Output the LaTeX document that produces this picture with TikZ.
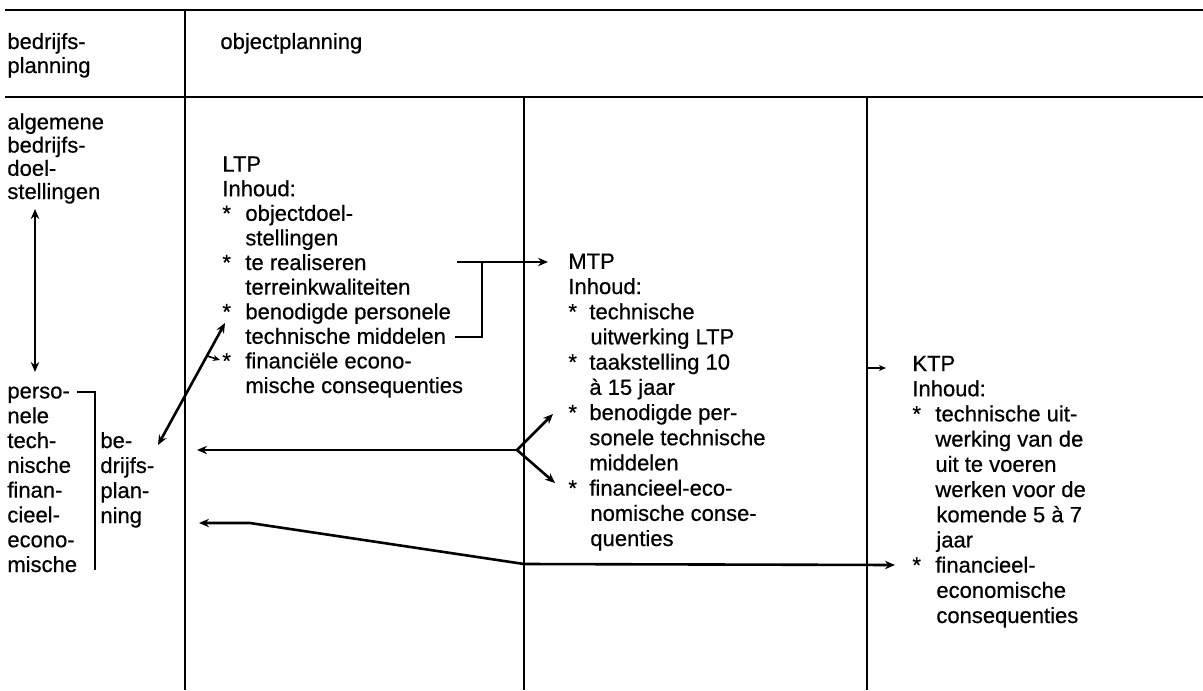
\documentclass[tikz,border=0pt]{standalone}
\usepackage{fontspec}
\setmainfont{Liberation Sans}[FakeBold=0.6]
\usetikzlibrary{arrows.meta}
\newcommand\bitem[1]{\makebox[#1][l]{*}}
\newcommand\bind[1]{\hspace*{#1}}
\begin{document}
\begin{tikzpicture}[x=0.5pt,y=-0.5pt,
  txt/.style={anchor=base west,inner sep=0pt,align=left,font=\fontsize{11pt}{12.5pt}\selectfont},
  gridline/.style={line width=0.9pt},
  conn/.style={line width=1.3pt},
  arr/.style={-{Stealth[length=5pt,width=4.2pt]}},
  darr/.style={{Stealth[length=5pt,width=4.2pt]}-{Stealth[length=5pt,width=4.2pt]}},
  smallarr/.style={line width=0.8pt,-{Stealth[length=3.5pt,width=3pt]}}]
\fill[white] (0,0) rectangle (1203,690);
\useasboundingbox (0,0) rectangle (1203,690);
% grid
\draw[gridline] (5,10) -- (1203,10);
\draw[gridline] (5,97) -- (1203,97);
\draw[gridline] (185,10) -- (185,690);
\draw[line width=0.7pt] (524,97) -- (524,690);
\draw[line width=0.7pt] (867,97) -- (867,690);
% header texts (anchored at the baseline of the last line)
\node[txt,font=\fontsize{11pt}{12pt}\selectfont] (hbp) at (7,73) {bedrijfs-\\planning};
\node[txt] (hop) at (220,49) {objectplanning};
% left column
\node[txt,font=\fontsize{11pt}{11.6pt}\selectfont] (goal) at (7,199) {algemene\\bedrijfs-\\doel-\\stellingen};
\node[txt,font=\fontsize{11pt}{12.4pt}\selectfont] (res) at (7,572) {perso-\\nele\\tech-\\nische\\finan-\\cieel-\\econo-\\mische};
\node[txt] (bp) at (100,523) {be-\\drijfs-\\plan-\\ning};
% LTP
\node[txt,font=\fontsize{11pt}{12.3pt}\selectfont] (ltp) at (222,393) {LTP\\Inhoud:\\
\bitem{11.5pt}objectdoel-\\\bind{11.5pt}stellingen\\
\bitem{11.5pt}te realiseren\\\bind{11.5pt}terreinkwaliteiten\\
\bitem{11.5pt}benodigde personele\\\bind{11.5pt}technische middelen\\
\bitem{11.5pt}financiële econo-\\\bind{11.5pt}mische consequenties};
% MTP
\node[txt,font=\fontsize{11pt}{12.6pt}\selectfont] (mtp) at (568,546) {MTP\\Inhoud:\\
\bitem{10.5pt}technische\\\bind{11pt}uitwerking LTP\\
\bitem{10.5pt}taakstelling 10\\\bind{10.5pt}à 15 jaar\\
\bitem{10.5pt}benodigde per-\\\bind{10.5pt}sonele technische\\\bind{10.5pt}middelen\\
\bitem{10.5pt}financieel-eco-\\\bind{11pt}nomische conse-\\\bind{11pt}quenties};
% KTP
\node[txt,font=\fontsize{11pt}{12.6pt}\selectfont] (ktp) at (912,623) {KTP\\Inhoud:\\
\bitem{11.5pt}technische uit-\\\bind{11.5pt}werking van de\\\bind{11.5pt}uit te voeren\\\bind{11.5pt}werken voor de\\\bind{12pt}komende 5 à 7\\\bind{12pt}jaar\\
\bitem{11.5pt}financieel-\\\bind{12pt}economische\\\bind{12pt}consequenties};
% coordinates
\coordinate (a1) at (35,209);
\coordinate (a2) at (35,372);
\coordinate (b1) at (77,392);
\coordinate (b2) at (95,392);
\coordinate (b3) at (95,570);
\coordinate (d1) at (158,445);
\coordinate (d2) at (225,323);
\coordinate (d3) at (207,356);
\coordinate (d4) at (220,360);
\coordinate (l1) at (457,262);
\coordinate (l2) at (482,262);
\coordinate (l3) at (482,337);
\coordinate (l4) at (455,337);
\coordinate (l5) at (548,262);
\coordinate (f0) at (517,450);
\coordinate (f1) at (197,450);
\coordinate (f2) at (553,414);
\coordinate (f3) at (555,483);
\coordinate (g1) at (199,523);
\coordinate (g2) at (250,523);
\coordinate (g3) at (524,564);
\coordinate (g4) at (895,565);
\coordinate (k1) at (867,368);
\coordinate (k2) at (886,368);
% connectors
\draw[conn,darr] (a1) -- (a2);
\draw[conn] (b1) -- (b2) -- (b3);
\draw[conn,darr] (d1) -- (d2);
\draw[smallarr] (d3) -- (d4);
\draw[conn] (l1) -- (l2) -- (l3) -- (l4);
\draw[conn,arr] (l2) -- (l5);
\draw[conn,arr] (f0) -- (f1);
\draw[conn,arr] (f0) -- (f2);
\draw[conn,arr] (f0) -- (f3);
\draw[conn,darr] (g1) -- (g2) -- (g3) -- (g4);
\draw[smallarr] (k1) -- (k2);
\end{tikzpicture}
\end{document}
